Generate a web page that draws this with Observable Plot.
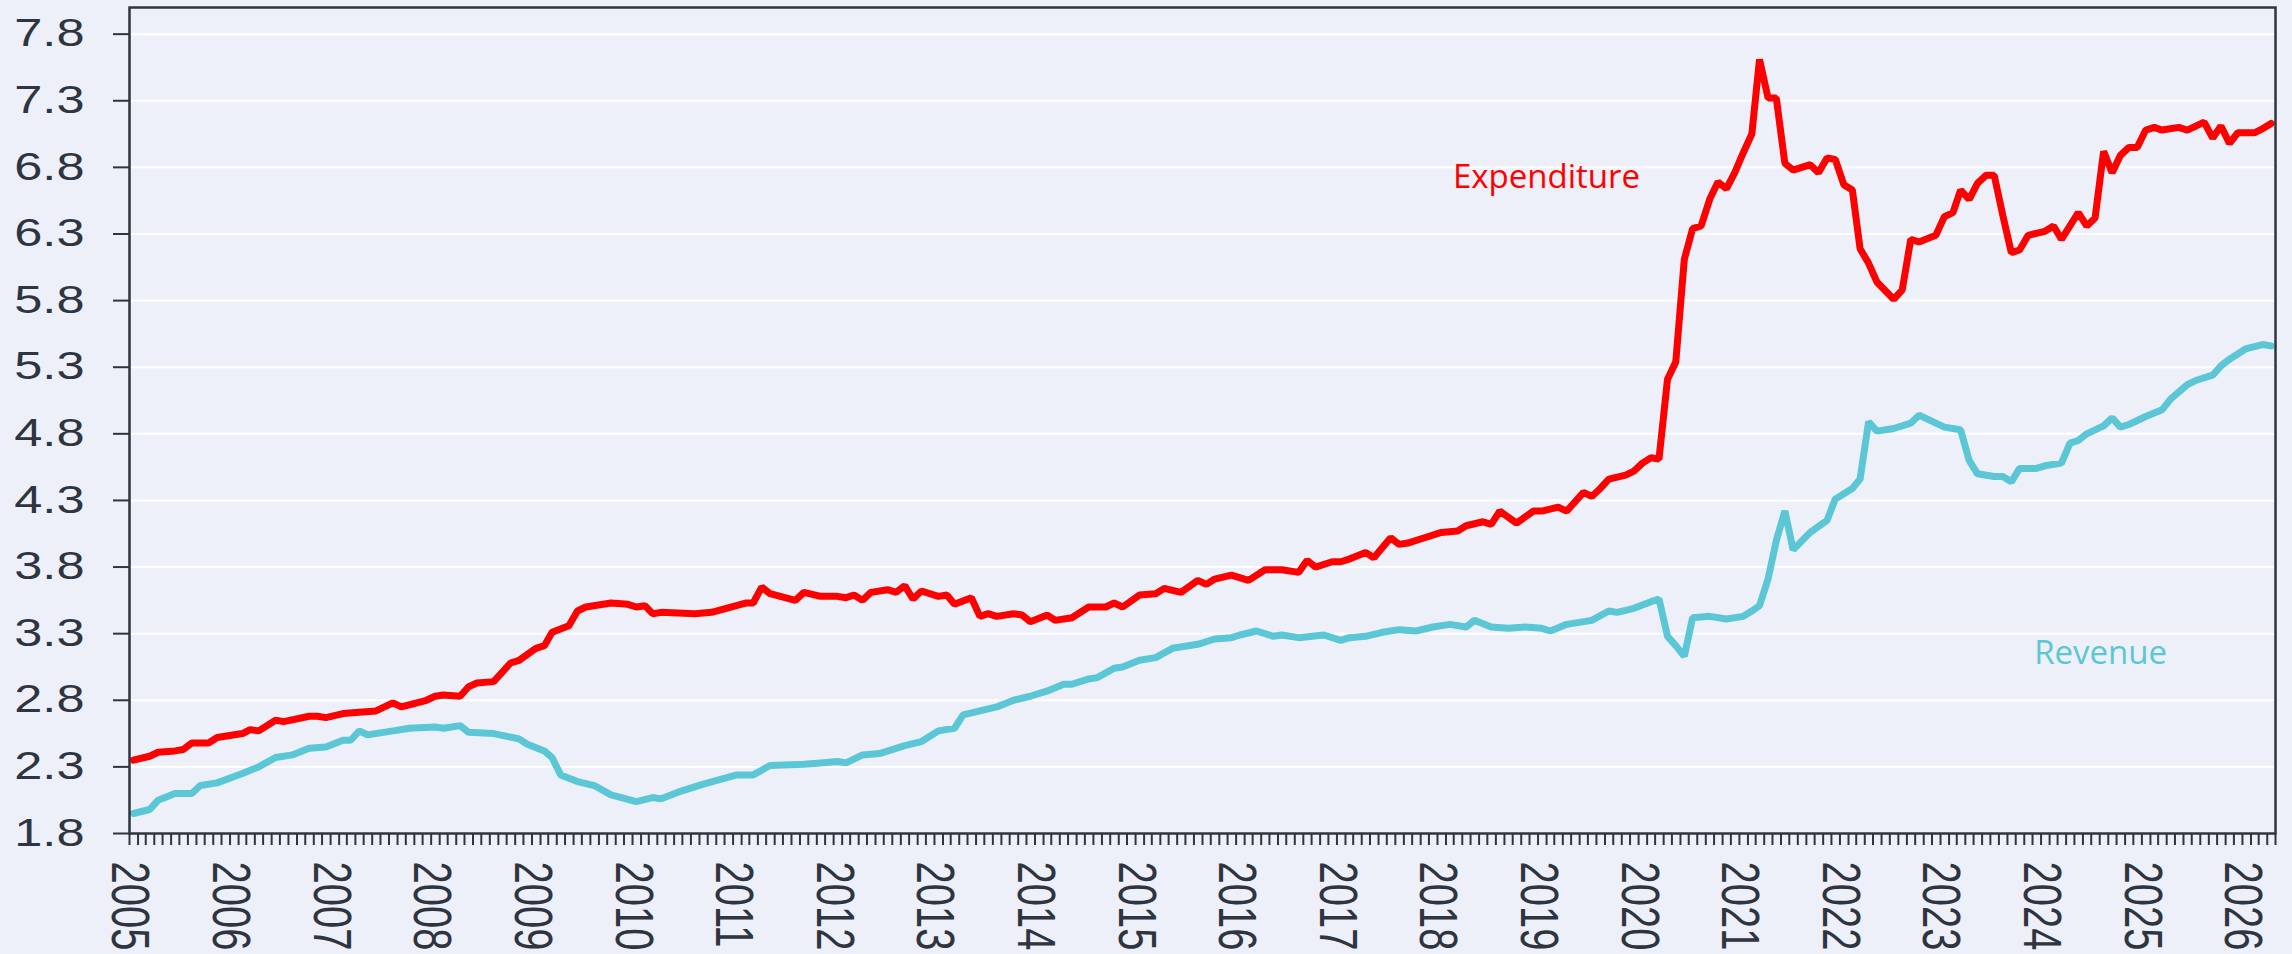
<!DOCTYPE html>
<html>
<head>
<meta charset="utf-8">
<script src="https://cdn.jsdelivr.net/npm/d3@7"></script>
<script src="https://cdn.jsdelivr.net/npm/@observablehq/plot@0.6"></script>
<style>
  html, body { margin: 0; padding: 0; background: #edf0f8; }
  #chart { width: 2292px; height: 954px; overflow: hidden; }
</style>
</head>
<body>
<div id="chart"></div>
<script>
// ---- Data ----
const expMonths = ["2005-01","2005-03","2005-04","2005-06","2005-07","2005-08","2005-10","2005-11","2006-02","2006-03","2006-04","2006-06","2006-07","2006-10","2006-11","2006-12","2007-02","2007-04","2007-06","2007-08","2007-09","2007-12","2008-01","2008-02","2008-04","2008-05","2008-06","2008-08","2008-10","2008-11","2009-01","2009-02","2009-03","2009-05","2009-06","2009-07","2009-10","2009-12","2010-01","2010-02","2010-03","2010-04","2010-08","2010-10","2011-02","2011-03","2011-04","2011-05","2011-08","2011-09","2011-11","2012-01","2012-02","2012-03","2012-04","2012-05","2012-07","2012-08","2012-09","2012-10","2012-11","2013-01","2013-02","2013-03","2013-05","2013-06","2013-07","2013-08","2013-10","2013-11","2013-12","2014-02","2014-03","2014-05","2014-07","2014-09","2014-10","2014-11","2015-01","2015-03","2015-04","2015-06","2015-08","2015-09","2015-10","2015-12","2016-02","2016-04","2016-06","2016-08","2016-09","2016-10","2016-12","2017-01","2017-02","2017-04","2017-05","2017-07","2017-08","2017-09","2017-11","2018-01","2018-03","2018-04","2018-06","2018-07","2018-08","2018-10","2018-12","2019-01","2019-03","2019-04","2019-06","2019-07","2019-08","2019-09","2019-11","2019-12","2020-01","2020-02","2020-03","2020-04","2020-05","2020-06","2020-07","2020-08","2020-09","2020-10","2020-11","2020-12","2021-01","2021-02","2021-03","2021-04","2021-05","2021-06","2021-07","2021-09","2021-10","2021-11","2021-12","2022-01","2022-02","2022-03","2022-04","2022-05","2022-07","2022-08","2022-09","2022-10","2022-12","2023-01","2023-02","2023-03","2023-04","2023-05","2023-06","2023-07","2023-08","2023-09","2023-10","2023-11","2024-01","2024-02","2024-03","2024-05","2024-06","2024-07","2024-08","2024-09","2024-10","2024-11","2024-12","2025-01","2025-02","2025-03","2025-05","2025-06","2025-08","2025-09","2025-10","2025-11","2025-12","2026-02","2026-03","2026-04"];
const expValues = [2.35,2.38,2.41,2.42,2.43,2.48,2.48,2.52,2.55,2.58,2.57,2.65,2.64,2.68,2.68,2.67,2.70,2.71,2.72,2.78,2.75,2.80,2.83,2.84,2.83,2.90,2.93,2.94,3.08,3.10,3.19,3.21,3.31,3.36,3.47,3.50,3.53,3.52,3.50,3.51,3.45,3.46,3.45,3.46,3.53,3.53,3.65,3.60,3.55,3.61,3.58,3.58,3.57,3.59,3.55,3.61,3.63,3.61,3.66,3.56,3.62,3.58,3.59,3.52,3.57,3.43,3.45,3.43,3.45,3.44,3.39,3.44,3.40,3.42,3.50,3.50,3.53,3.50,3.59,3.60,3.64,3.61,3.70,3.67,3.71,3.74,3.70,3.78,3.78,3.76,3.85,3.80,3.84,3.84,3.86,3.91,3.87,4.02,3.97,3.98,4.02,4.06,4.07,4.11,4.14,4.12,4.22,4.13,4.22,4.22,4.25,4.22,4.36,4.33,4.39,4.46,4.49,4.52,4.58,4.62,4.61,5.21,5.34,6.11,6.34,6.36,6.56,6.69,6.64,6.76,6.91,7.05,7.61,7.32,7.32,6.83,6.78,6.82,6.76,6.87,6.86,6.67,6.63,6.19,6.08,5.94,5.81,5.88,6.26,6.24,6.29,6.43,6.46,6.63,6.56,6.68,6.74,6.74,6.44,6.16,6.18,6.29,6.32,6.36,6.26,6.46,6.36,6.42,6.92,6.76,6.89,6.95,6.95,7.08,7.10,7.08,7.10,7.08,7.14,7.02,7.11,6.98,7.06,7.06,7.09,7.13];

const revMonths = ["2005-01","2005-03","2005-04","2005-06","2005-08","2005-09","2005-11","2006-02","2006-04","2006-06","2006-08","2006-10","2006-12","2007-02","2007-03","2007-04","2007-05","2007-08","2007-10","2008-01","2008-02","2008-04","2008-05","2008-08","2008-11","2008-12","2009-02","2009-03","2009-04","2009-06","2009-08","2009-10","2010-01","2010-03","2010-04","2010-06","2010-09","2011-01","2011-03","2011-05","2011-09","2011-11","2012-01","2012-02","2012-04","2012-06","2012-09","2012-11","2013-01","2013-03","2013-04","2013-06","2013-08","2013-10","2013-12","2014-02","2014-04","2014-05","2014-07","2014-08","2014-10","2014-11","2015-01","2015-03","2015-05","2015-08","2015-10","2015-12","2016-01","2016-03","2016-05","2016-06","2016-08","2016-11","2017-01","2017-02","2017-04","2017-06","2017-08","2017-10","2017-12","2018-02","2018-04","2018-05","2018-07","2018-09","2018-11","2019-01","2019-02","2019-04","2019-07","2019-09","2019-10","2019-12","2020-02","2020-03","2020-04","2020-05","2020-06","2020-07","2020-09","2020-11","2021-01","2021-02","2021-03","2021-04","2021-05","2021-06","2021-07","2021-09","2021-11","2021-12","2022-02","2022-03","2022-04","2022-05","2022-07","2022-09","2022-10","2023-01","2023-03","2023-04","2023-05","2023-07","2023-08","2023-09","2023-10","2023-12","2024-01","2024-03","2024-04","2024-05","2024-06","2024-08","2024-09","2024-10","2024-11","2025-01","2025-03","2025-04","2025-06","2025-07","2025-09","2025-10","2025-11","2026-01","2026-03","2026-04"];
const revValues = [1.95,1.98,2.05,2.10,2.10,2.16,2.18,2.25,2.30,2.37,2.39,2.44,2.45,2.50,2.50,2.57,2.54,2.57,2.59,2.60,2.59,2.61,2.56,2.55,2.51,2.47,2.42,2.37,2.24,2.19,2.16,2.09,2.04,2.07,2.06,2.11,2.17,2.24,2.24,2.31,2.32,2.33,2.34,2.33,2.39,2.40,2.46,2.49,2.57,2.59,2.69,2.72,2.75,2.80,2.83,2.87,2.92,2.92,2.96,2.97,3.04,3.05,3.10,3.12,3.19,3.22,3.26,3.27,3.29,3.32,3.28,3.29,3.27,3.29,3.25,3.27,3.28,3.31,3.33,3.32,3.35,3.37,3.35,3.40,3.35,3.34,3.35,3.34,3.32,3.37,3.40,3.47,3.46,3.49,3.54,3.56,3.28,3.21,3.13,3.42,3.43,3.41,3.43,3.47,3.51,3.71,4.00,4.22,3.93,4.06,4.15,4.31,4.39,4.46,4.89,4.82,4.84,4.88,4.94,4.85,4.83,4.60,4.50,4.48,4.48,4.44,4.54,4.54,4.56,4.58,4.73,4.75,4.80,4.86,4.92,4.85,4.87,4.93,4.98,5.06,5.17,5.20,5.24,5.31,5.36,5.44,5.47,5.46];

const yTickValues = [1.8, 2.3, 2.8, 3.3, 3.8, 4.3, 4.8, 5.3, 5.8, 6.3, 6.8, 7.3, 7.8];
const yearLabels = ["2005","2006","2007","2008","2009","2010","2011","2012","2013","2014","2015","2016","2017","2018","2019","2020","2021","2022","2023","2024","2025","2026"];
const seriesNames = ["Expenditure", "Revenue"];

// ---- Build tables ----
const parseMonth = d3.utcParse("%Y-%m");
const midMonth = s => d3.utcDay.offset(parseMonth(s), 14);
const expData = expMonths.map((m, i) => ({date: midMonth(m), value: expValues[i]}));
const revData = revMonths.map((m, i) => ({date: midMonth(m), value: revValues[i]}));
const yearDates = yearLabels.map(y => new Date(Date.UTC(+y, 0, 1)));
const xStart = new Date(Date.UTC(2005, 0, 1));
const xEnd = new Date(Date.UTC(2026, 4, 1));
const monthTicks = d3.utcMonth.range(xStart, d3.utcDay.offset(xEnd, 1));

const ink = "#2e3440";
const red = "#ff0000";
const teal = "#5bc7d6";

const chart = Plot.plot({
  width: 2292,
  height: 954,
  marginTop: 7,
  marginBottom: 121,
  marginLeft: 129,
  marginRight: 17,
  style: {background: "#edf0f8", color: ink, fontFamily: "'Liberation Sans', Arial, sans-serif", overflow: "visible"},
  x: {type: "utc", domain: [xStart, xEnd], label: null},
  y: {domain: [1.8, 8.0], label: null},
  marks: [
    Plot.gridY(yTickValues, {stroke: "#ffffff", strokeOpacity: 1, strokeWidth: 2}),
    Plot.axisY(yTickValues, {
      tickSize: 16, tickPadding: 29, strokeWidth: 2,
      tickFormat: d3.format(".1f"), fontSize: 38, label: null
    }),
    Plot.axisX(monthTicks, {tickSize: 12, strokeWidth: 2, tickFormat: () => "", label: null}),
    Plot.axisX(yearDates, {
      tickSize: 0, tickPadding: 28, tickRotate: 90, fontSize: 40,
      tickFormat: (d, i) => yearLabels[i], label: null
    }),
    Plot.lineY(revData, {x: "date", y: "value", stroke: teal, strokeWidth: 7, strokeLinejoin: "miter"}),
    Plot.lineY(expData, {x: "date", y: "value", stroke: red, strokeWidth: 7, strokeLinejoin: "miter"}),
    Plot.frame({stroke: ink, strokeWidth: 2.5}),
    Plot.text([seriesNames[0]], {
      x: new Date(Date.UTC(2018, 1, 26)), y: 6.642, text: d => d,
      textAnchor: "start", lineAnchor: "bottom", fill: red,
      fontSize: 33, fontFamily: "'Open Sans', 'Noto Sans', sans-serif"
    }),
    Plot.text([seriesNames[1]], {
      x: new Date(Date.UTC(2023, 11, 7)), y: 3.069, text: d => d,
      textAnchor: "start", lineAnchor: "bottom", fill: teal,
      fontSize: 33, fontFamily: "'Open Sans', 'Noto Sans', sans-serif"
    })
  ]
});

// The reference tick labels are drawn wider than the plain font: widen them about their anchor.
function widen(selector, sx, sy) {
  chart.querySelectorAll(selector).forEach(t => {
    const tr = t.getAttribute("transform");
    if (tr) {
      t.setAttribute("transform", `${tr} scale(${sx},${sy})`);
    } else {
      const x = parseFloat(t.getAttribute("x")) || 0;
      t.setAttribute("transform", `translate(${x},0) scale(${sx},${sy}) translate(${-x},0)`);
    }
  });
}
widen('g[aria-label="y-axis tick label"] text', 1.33, 1);
widen('g[aria-label="x-axis tick label"] text', 1, 1.33);

document.getElementById("chart").appendChild(chart);
</script>
</body>
</html>
